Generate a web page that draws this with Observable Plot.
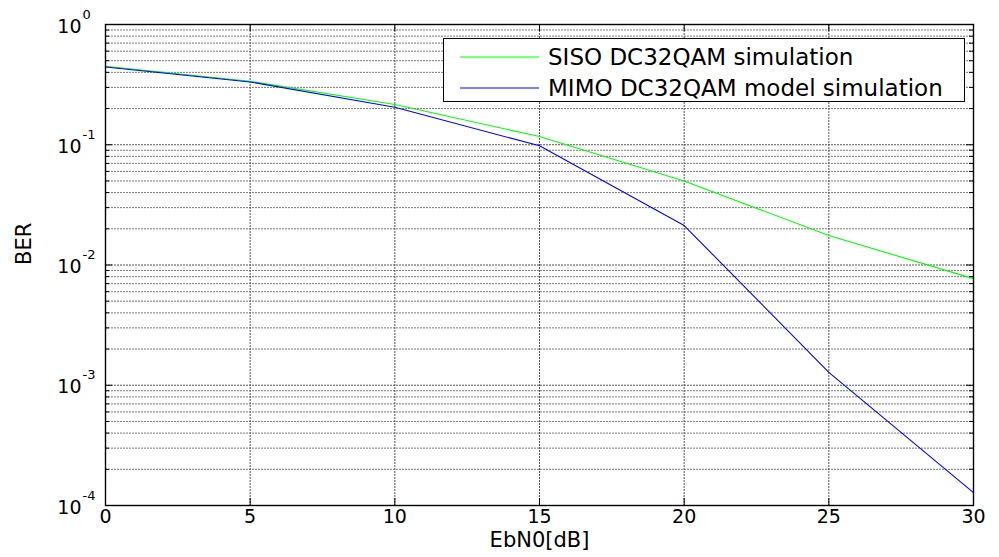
<!DOCTYPE html>
<html><head><meta charset="utf-8">
<script src="https://cdn.jsdelivr.net/npm/d3@7"></script>
<script src="https://cdn.jsdelivr.net/npm/@observablehq/plot@0.6"></script>
<style>
body{margin:0;background:#fff;}
#wrap{position:relative;width:999px;height:557px;font-family:"DejaVu Sans",sans-serif;}
#legend{position:absolute;left:443px;top:38px;width:520px;height:62px;border:1.3px solid #000;background:#fff;box-sizing:content-box;}
.row{position:absolute;left:0;height:30px;display:flex;align-items:center;font-size:23px;color:#000;white-space:nowrap;}
.row svg{margin-left:16px;margin-right:9px;}
</style></head><body><div id="wrap"></div>
<script>
// ---- data ----
const ebn0 = [0, 5, 10, 15, 20, 25, 30];
const sisoBer = [0.45, 0.337, 0.216, 0.117, 0.050, 0.0176, 0.0077];
const mimoBer = [0.443, 0.333, 0.205, 0.098, 0.0213, 0.00128, 0.000128];
const seriesNames = ["SISO DC32QAM simulation", "MIMO DC32QAM model simulation"];
const seriesColors = ["#00ff00", "#0000ff"];
const xTicks = [0, 5, 10, 15, 20, 25, 30];
const yDecades = [1, 0.1, 0.01, 0.001, 0.0001];
const yExponents = ["0", "-1", "-2", "-3", "-4"];
const xLabel = "EbN0[dB]";
const yLabel = "BER";

// minor tick positions (2..9 within each decade)
const yMinor = [];
for (const d of yDecades.slice(1)) for (let m = 2; m <= 9; m++) yMinor.push(m * d);

const rows = [];
ebn0.forEach((x, i) => {
  rows.push({series: seriesNames[0], x, y: sisoBer[i]});
  rows.push({series: seriesNames[1], x, y: mimoBer[i]});
});

const yMin = yDecades[yDecades.length - 1], yMax = yDecades[0];
const xMin = xTicks[0], xMax = xTicks[xTicks.length - 1];

const plot = Plot.plot({
  width: 999, height: 557,
  marginLeft: 105, marginRight: 26, marginTop: 24, marginBottom: 52,
  style: {fontFamily: "DejaVu Sans, sans-serif", background: "#fff", color: "#000"},
  x: {domain: [xMin, xMax], axis: null},
  y: {type: "log", domain: [yMin, yMax], axis: null},
  color: {domain: seriesNames, range: seriesColors},
  marks: [
    // grid
    Plot.ruleY(yMinor, {y: d => d, stroke: "#7a7a7a", strokeDasharray: "2,1", strokeWidth: 1}),
    Plot.ruleY(yDecades, {y: d => d, stroke: "#555", strokeDasharray: "2,1", strokeWidth: 1.2}),
    Plot.ruleX(xTicks, {x: d => d, stroke: "#555", strokeDasharray: "2,1", strokeWidth: 1}),
    // lines
    Plot.line(rows, {x: "x", y: "y", z: "series", stroke: "series", strokeWidth: 1.1}),
    // frame
    Plot.frame({stroke: "#000", strokeWidth: 1.4}),
    // inward ticks
    Plot.ruleX(xTicks, {x: d => d, y1: yMin, y2: yMin, insetTop: -7, stroke: "#000"}),
    Plot.ruleX(xTicks, {x: d => d, y1: yMax, y2: yMax, insetBottom: -7, stroke: "#000"}),
    Plot.ruleY(yDecades, {y: d => d, x1: xMin, x2: xMin, insetRight: -7, stroke: "#000"}),
    Plot.ruleY(yDecades, {y: d => d, x1: xMax, x2: xMax, insetLeft: -7, stroke: "#000"}),
    Plot.ruleY(yMinor, {y: d => d, x1: xMin, x2: xMin, insetRight: -4, stroke: "#000"}),
    Plot.ruleY(yMinor, {y: d => d, x1: xMax, x2: xMax, insetLeft: -4, stroke: "#000"}),
    // x tick labels
    Plot.text(xTicks, {x: d => d, frameAnchor: "bottom", text: d => String(d), dy: 17, fontSize: 19, fill: "#000"}),
    // y tick labels 10^n
    Plot.text(yDecades, {y: d => d, frameAnchor: "left", text: () => "10", textAnchor: "end", dx: -24, dy: 2, fontSize: 19, fill: "#000"}),
    Plot.text(yDecades, {y: d => d, frameAnchor: "left", text: (d, i) => yExponents[i], textAnchor: "start", dx: -23, dy: -10, fontSize: 13, fill: "#000"}),
    // axis labels
    Plot.text([xLabel], {frameAnchor: "bottom", text: d => d, dy: 41, fontSize: 21, fill: "#000"}),
    Plot.text([yLabel], {frameAnchor: "left", text: d => d, dx: -81, rotate: -90, fontSize: 21, fill: "#000"})
  ]
});

const wrap = document.getElementById("wrap");
wrap.appendChild(plot);

// legend
const legend = document.createElement("div");
legend.id = "legend";
seriesNames.forEach((name, i) => {
  const row = document.createElement("div");
  row.className = "row";
  row.style.top = (3 + i * 31) + "px";
  row.innerHTML = `<svg width="79" height="4"><line x1="0" x2="79" y1="2" y2="2" stroke="${seriesColors[i]}" stroke-width="1.1"/></svg><span>${name}</span>`;
  legend.appendChild(row);
});
wrap.appendChild(legend);
</script>
</body></html>
